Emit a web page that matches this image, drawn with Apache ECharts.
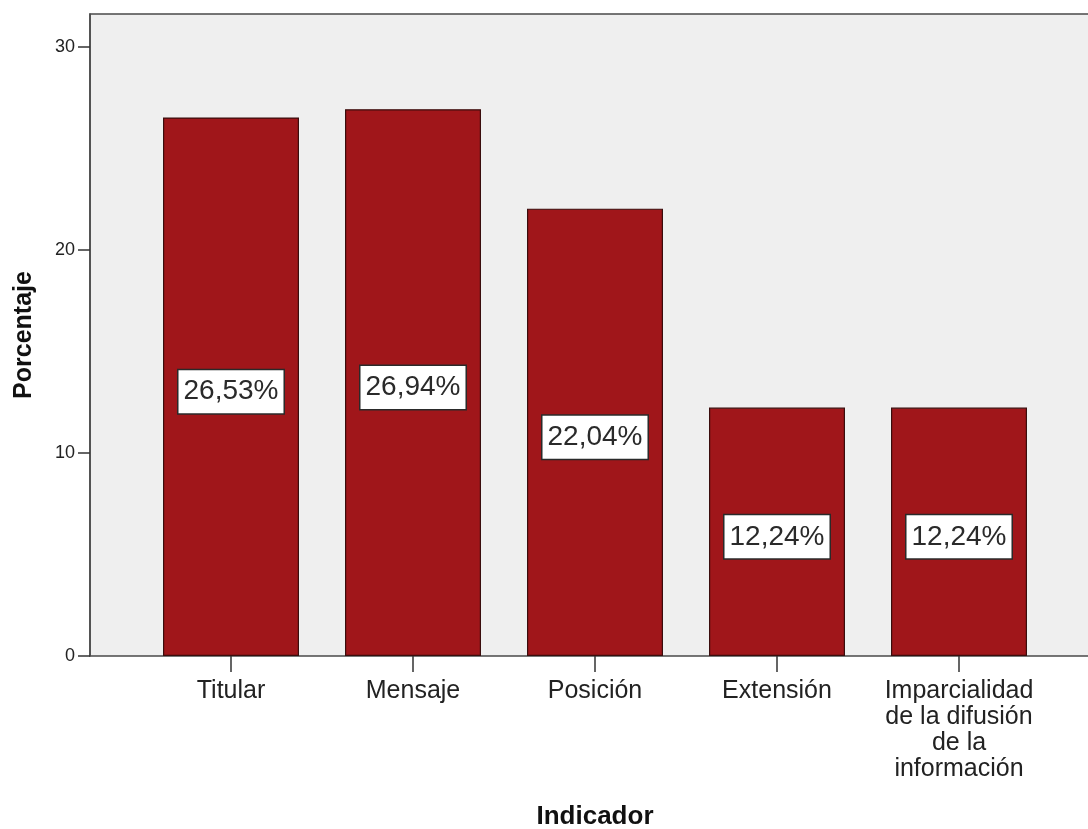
<!DOCTYPE html>
<html>
<head>
<meta charset="utf-8">
<script src="https://cdn.jsdelivr.net/npm/echarts@6/dist/echarts.min.js"></script>
<style>html,body{margin:0;padding:0;background:#fff}#c{width:1088px;height:829px}</style>
</head>
<body>
<div id="c"></div>
<script>
const categories = ["Titular", "Mensaje", "Posición", "Extensión", "Imparcialidad\nde la difusión\nde la\ninformación"];
const values = [26.53, 26.94, 22.04, 12.24, 12.24];
const yTicks = [0, 10, 20, 30];

const FONT = "Liberation Sans, Arial, sans-serif";
const lineOnly = {show: true, lineStyle: {color: '#4a4a4a', width: 1.5}};
const chart = echarts.init(document.getElementById('c'), null, {renderer: 'canvas'});
chart.setOption({
  animation: false,
  backgroundColor: '#ffffff',
  grid: [
    {left: 90, top: 14, width: 1030, bottom: 173, outerBoundsMode: 'none', containLabel: false,
     show: true, backgroundColor: '#efefef', borderColor: '#4a4a4a', borderWidth: 1.5},
    {left: 140, top: 14, width: 910, bottom: 173, outerBoundsMode: 'none', containLabel: false}
  ],
  xAxis: [
    {gridIndex: 0, type: 'value', show: false, min: 0, max: 1},
    {gridIndex: 1, type: 'category', data: categories,
     axisLine: {show: false},
     axisTick: {show: true, alignWithLabel: true, length: 16, lineStyle: {color: '#333', width: 1.5}},
     axisLabel: {color: '#222', fontFamily: FONT, fontSize: 25, lineHeight: 26, margin: 22, interval: 0},
     name: 'Indicador', nameLocation: 'middle', nameGap: 148,
     nameTextStyle: {fontFamily: FONT, fontSize: 26, fontWeight: 'bold', color: '#111'}}
  ],
  yAxis: [
    {gridIndex: 0, type: 'value', show: false, min: 0, max: 1},
    {gridIndex: 1, type: 'value', min: 0, max: 31.63, interval: 10, offset: 50,
     splitLine: {show: false},
     axisLine: lineOnly,
     axisTick: {show: true, length: 12, lineStyle: {color: '#333', width: 1.5}},
     axisLabel: {color: '#222', fontFamily: FONT, fontSize: 18, margin: 15, showMaxLabel: false,
       formatter: v => yTicks.includes(v) ? String(v) : ''},
     name: 'Porcentaje', nameLocation: 'middle', nameGap: 53, nameRotate: 90,
     nameTextStyle: {fontFamily: FONT, fontSize: 25, fontWeight: 'bold', color: '#111'}}
  ],
  series: [{
    type: 'bar', xAxisIndex: 1, yAxisIndex: 1,
    data: values, barWidth: 136,
    itemStyle: {color: '#a0161a', borderColor: '#3a0d0d', borderWidth: 1.2},
    label: {show: true, position: 'inside', offset: [0, 5],
      formatter: p => p.value.toFixed(2).replace('.', ',') + '%',
      color: '#2a2a2a', fontFamily: FONT, fontSize: 28, lineHeight: 28,
      backgroundColor: '#ffffff', borderColor: '#2a2a2a', borderWidth: 1.5, padding: [8, 5, 7, 5]}
  }]
});
</script>
</body>
</html>
